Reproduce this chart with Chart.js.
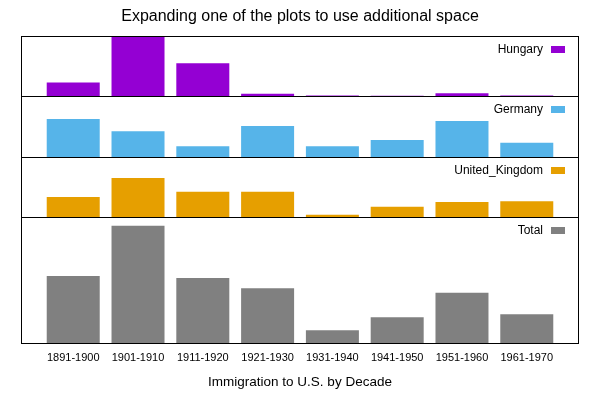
<!DOCTYPE html>
<html>
<head>
<meta charset="utf-8">
<script src="https://cdn.jsdelivr.net/npm/chart.js@4.4.0/dist/chart.umd.min.js"></script>
<style>
body { margin: 0; background: #fff; }
#wrap { position: relative; width: 600px; height: 400px; background: #fff; }
#wrap canvas { position: absolute; left: 0; }
</style>
</head>
<body>
<div id="wrap">
  <canvas id="g1" width="600" height="97" style="top:0px"></canvas>
  <canvas id="g2" width="600" height="62" style="top:96px"></canvas>
  <canvas id="g3" width="600" height="61" style="top:157px"></canvas>
  <canvas id="g4" width="600" height="183" style="top:217px"></canvas>
</div>
<script>
// datos
var decadas = ['1891-1900', '1901-1910', '1911-1920', '1921-1930', '1931-1940', '1941-1950', '1951-1960', '1961-1970'];
var hungary = [181288, 808511, 442693, 30680, 7861, 3469, 36637, 5401];
var germany = [505152, 341498, 143945, 412202, 144000, 226578, 477765, 190796];
var unitedKingdom = [271538, 525950, 341408, 339570, 31572, 139306, 202824, 213822];
var total = [958000, 1676000, 928000, 782000, 183000, 369000, 717000, 410000];

Chart.defaults.font.family = "'Liberation Sans', Arial, sans-serif";
Chart.defaults.color = '#000';

// marco negro alrededor de cada panel
var marco = {
    id: 'marco',
    afterDatasetsDraw: function (chart) {
        var a = chart.chartArea, c = chart.ctx;
        c.save();
        c.strokeStyle = '#000';
        c.lineWidth = 1;
        c.strokeRect(a.left + 0.5, a.top + 0.5, a.right - a.left - 1, a.bottom - a.top);
        c.restore();
    }
};

// leyenda arriba a la derecha: texto y cuadrito
var leyenda = {
    id: 'leyenda',
    afterDraw: function (chart) {
        var a = chart.chartArea, c = chart.ctx;
        var ds = chart.data.datasets[0];
        c.save();
        c.font = "12px 'Liberation Sans', Arial, sans-serif";
        c.fillStyle = '#000';
        c.textAlign = 'right';
        c.textBaseline = 'middle';
        c.fillText(ds.label, 543, a.top + 14);
        c.fillStyle = ds.backgroundColor;
        c.fillRect(551, a.top + 10, 14, 7);
        c.restore();
    }
};

function crearPanel(id, nombre, valores, color, maximo, extra) {
    var xEje = {
        type: 'linear',
        min: -0.806,
        max: 7.806,
        offset: false,
        display: false
    };
    var opciones = {
        responsive: false,
        animation: false,
        devicePixelRatio: 1,
        layout: { padding: { left: 21, right: 21, top: 0, bottom: 1 } },
        plugins: {
            legend: { display: false },
            tooltip: { enabled: false },
            title: { display: false }
        },
        scales: {
            x: xEje,
            y: { display: false, min: 0, max: maximo }
        }
    };
    if (extra) extra(opciones);
    return new Chart(document.getElementById(id), {
        type: 'bar',
        data: {
            datasets: [{
                label: nombre,
                backgroundColor: color,
                borderWidth: 0,
                categoryPercentage: 1,
                barPercentage: 0.818,
                data: valores.map(function (v, i) { return { x: i, y: v }; })
            }]
        },
        options: opciones,
        plugins: [marco, leyenda]
    });
}

crearPanel('g1', 'Hungary', hungary, '#9400d3', 810000, function (o) {
    o.plugins.title = {
        display: true,
        text: 'Expanding one of the plots to use additional space',
        color: '#000',
        font: { size: 16, weight: 'normal' },
        padding: { top: 7, bottom: 9.8 }
    };
});
crearPanel('g2', 'Germany', germany, '#56b4e9', 810000);
crearPanel('g3', 'United_Kingdom', unitedKingdom, '#e69f00', 810000);
crearPanel('g4', 'Total', total, '#808080', 1800000, function (o) {
    o.layout.padding.bottom = 0;
    o.scales.x = {
        type: 'linear',
        min: -0.806,
        max: 7.806,
        offset: false,
        display: true,
        grid: { display: false, drawTicks: false },
        border: { display: false },
        afterBuildTicks: function (ax) {
            ax.ticks = decadas.map(function (d, i) { return { value: i }; });
        },
        afterFit: function (ax) { ax.height = 57; },
        ticks: {
            autoSkip: false,
            maxRotation: 0,
            padding: 8,
            color: '#000',
            font: { size: 11 },
            callback: function (v, i) { return decadas[i]; }
        },
        title: {
            display: true,
            text: 'Immigration to U.S. by Decade',
            color: '#000',
            font: { size: 13.5 },
            padding: { top: 0, bottom: 10 }
        }
    };
});
</script>
</body>
</html>
